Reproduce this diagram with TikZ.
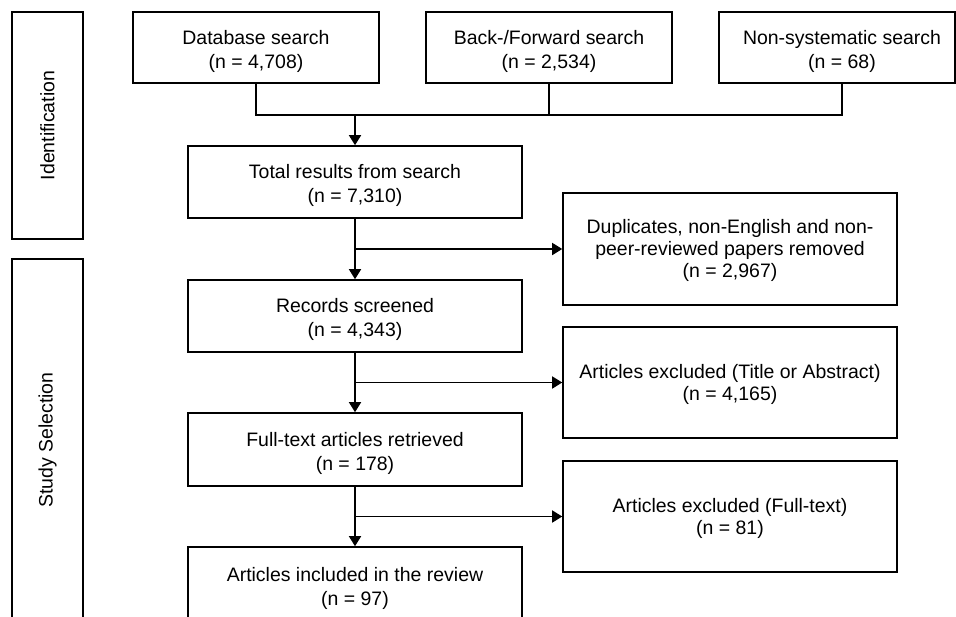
\documentclass[tikz,border=0pt]{standalone}
\usepackage{fontspec}
\setmainfont{Liberation Sans}
\usetikzlibrary{arrows.meta,calc}
\newcommand{\toppad}{\rule{0pt}{15.8pt}}
\newcommand{\sidepad}{\rule{0pt}{13.5pt}}
\begin{document}
\begin{tikzpicture}[x=0.75pt,y=-0.75pt,
  font=\fontsize{14.6}{18}\selectfont,
  box/.style={draw=black,line width=1.2pt,align=center,inner sep=2pt,minimum width=#1*0.75pt},
  box/.default=334,
  sidebox/.style={box,font=\fontsize{14.6}{16.5}\selectfont},
  conn/.style={line width=1.2pt,draw=black},
  arr/.style={conn,-{Triangle[length=7.5pt,width=9pt]}}]
\useasboundingbox (0,0) rectangle (956,617);
\clip (0,0) rectangle (956,617);
% stage boxes
\node[box=71,minimum height=227*0.75pt] (ident) at (47.5,125.5) {\rotatebox{90}{Identification}};
\node[box=71,minimum height=362*0.75pt] (study) at (47.5,440) {\rotatebox{90}{Study Selection}};
% sources
\node[box=246,minimum height=71*0.75pt] (db) at (256,47.5) {\toppad Database search\\(n = 4,708)};
\node[box=246,minimum height=71*0.75pt] (bf) at (549,47.5) {\toppad Back-/Forward search\\(n = 2,534)};
\node[box=236,minimum height=71*0.75pt] (ns) at (837,47.5) {};
\node[align=center,inner sep=2pt] (nst) at (842,47.5) {\toppad Non-systematic search\\(n = 68)};
% main column
\node[box,minimum height=72*0.75pt] (total) at (355,182) {\toppad Total results from search\\(n = 7,310)};
\node[box,minimum height=72*0.75pt] (rec) at (355,316) {\toppad Records screened\\(n = 4,343)};
\node[box,minimum height=73*0.75pt] (ft) at (355,449.5) {\toppad Full-text articles retrieved\\(n = 178)};
\node[box,minimum height=75*0.75pt] (inc) at (355,584.5) {\toppad Articles included in the review\\(n = 97)};
% exclusion column
\node[sidebox,minimum height=112*0.75pt] (dup) at (730,249) {\sidepad Duplicates, non-English and non-\\peer-reviewed papers removed\\(n = 2,967)};
\node[sidebox,minimum height=111*0.75pt] (ttl) at (730,382.5) {\sidepad Articles excluded (Title or Abstract)\\(n = 4,165)};
\node[sidebox,minimum height=111*0.75pt] (fte) at (730,516.5) {\sidepad Articles excluded (Full-text)\\(n = 81)};
% bus
\coordinate (bus) at (355,115);
\draw[conn] (db.south) |- (bus) -| (nst |- ns.south);
\draw[conn] (bf.south) -- (bf.south |- bus);
\draw[arr] (bus) -- (total.north);
% main flow
\draw[arr] (total.south) -- (rec.north);
\draw[arr] (total.south |- dup.west) -- (dup.west);
\draw[arr] (rec.south) -- (ft.north);
\draw[arr] (rec.south |- ttl.west) -- (ttl.west);
\draw[arr] (ft.south) -- (inc.north);
\draw[arr] (ft.south |- fte.west) -- (fte.west);
\end{tikzpicture}
\end{document}
